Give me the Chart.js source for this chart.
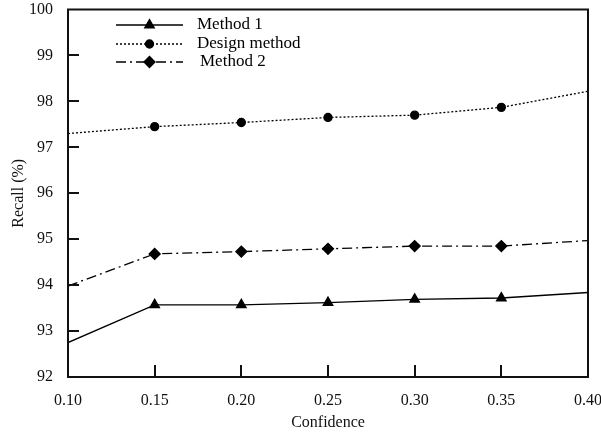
<!DOCTYPE html>
<html>
<head>
<meta charset="utf-8">
<script src="https://cdn.jsdelivr.net/npm/chart.js@4.4.1/dist/chart.umd.min.js"></script>
<style>
  html, body { margin: 0; padding: 0; background: #fff; }
  #wrap { width: 601px; height: 432px; }
</style>
</head>
<body>
<div id="wrap"><canvas id="chart" width="601" height="432"></canvas></div>
<script>
// values
const confidence = [0.10, 0.15, 0.20, 0.25, 0.30, 0.35, 0.40];
const method1 = [92.75, 93.57, 93.57, 93.62, 93.69, 93.72, 93.84];
const designMethod = [97.30, 97.45, 97.54, 97.65, 97.70, 97.87, 98.22];
const method2 = [93.98, 94.68, 94.73, 94.79, 94.85, 94.85, 94.97];
const seriesNames = ['Method 1', 'Design method', 'Method 2'];
const yTicks = [92, 93, 94, 95, 96, 97, 98, 99, 100];

const FONT = "'Liberation Serif', 'Times New Roman', serif";

function pts(vals) {
  return confidence.map((c, i) => ({ x: c, y: vals[i] }));
}

// frame around the plot + inward tick marks
const framePlugin = {
  id: 'frame',
  afterDraw(chart) {
    const { ctx, chartArea: a, scales } = chart;
    ctx.save();
    ctx.strokeStyle = '#111';
    ctx.lineWidth = 2;
    ctx.strokeRect(a.left, a.top, a.right - a.left, a.bottom - a.top);
    ctx.beginPath();
    scales.y.ticks.forEach(t => {
      if (t.value <= 92 || t.value >= 100) return;
      const py = Math.round(scales.y.getPixelForValue(t.value));
      ctx.moveTo(a.left, py);
      ctx.lineTo(a.left + 11, py);
    });
    scales.x.ticks.forEach(t => {
      if (t.value <= 0.1001 || t.value >= 0.3999) return;
      const px = Math.round(scales.x.getPixelForValue(t.value));
      ctx.moveTo(px, a.bottom);
      ctx.lineTo(px, a.bottom - 12);
    });
    ctx.stroke();
    ctx.restore();
  }
};

// legend drawn inside the plot, line sample with marker in the middle
const legendPlugin = {
  id: 'innerLegend',
  afterDraw(chart) {
    const { ctx, chartArea: a } = chart;
    const x0 = a.left + 48, x1 = a.left + 115;
    const rows = [a.top + 15.5, a.top + 34.5, a.top + 52.5];
    ctx.save();
    chart.data.datasets.forEach((ds, i) => {
      const y = rows[i];
      ctx.strokeStyle = '#000';
      ctx.lineWidth = ds.borderWidth;
      ctx.setLineDash(ds.borderDash || []);
      ctx.beginPath();
      ctx.moveTo(x0, y);
      ctx.lineTo(x1, y);
      ctx.stroke();
      ctx.setLineDash([]);
      ctx.fillStyle = '#000';
      Chart.helpers.drawPoint(ctx, {
        pointStyle: ds.pointStyle,
        radius: ds.pointStyle === 'circle' ? 4 : 5.5,
        rotation: 0,
        borderWidth: 1
      }, (x0 + x1) / 2, y);
      ctx.font = '17px ' + FONT;
      ctx.textBaseline = 'middle';
      ctx.textAlign = 'left';
      ctx.fillText(ds.label, x1 + (i === 2 ? 17 : 14), y);
    });
    ctx.restore();
  }
};

const common = {
  borderColor: '#000',
  backgroundColor: '#000',
  pointBackgroundColor: '#000',
  pointBorderColor: '#000',
  borderWidth: 1.3,
  tension: 0
};

new Chart(document.getElementById('chart').getContext('2d'), {
  type: 'line',
  data: {
    datasets: [
      Object.assign({}, common, {
        label: seriesNames[0],
        data: pts(method1),
        pointStyle: 'triangle',
        pointRadius: [0, 5.5, 5.5, 5.5, 5.5, 5.5, 0]
      }),
      Object.assign({}, common, {
        label: seriesNames[1],
        data: pts(designMethod),
        borderDash: [2, 2],
        pointStyle: 'circle',
        pointRadius: [0, 4, 4, 4, 4, 4, 0]
      }),
      Object.assign({}, common, {
        label: seriesNames[2],
        data: pts(method2),
        borderDash: [10, 4, 2, 4],
        pointStyle: 'rectRot',
        pointRadius: [0, 5.5, 5.5, 5.5, 5.5, 5.5, 0]
      })
    ]
  },
  options: {
    responsive: false,
    animation: false,
    devicePixelRatio: 1,
    layout: { padding: { left: 0, right: 0, top: 0, bottom: 0 } },
    plugins: {
      legend: { display: false },
      tooltip: { enabled: false }
    },
    scales: {
      x: {
        type: 'linear',
        min: 0.1,
        max: 0.4,
        grid: { display: false },
        border: { display: false },
        afterFit(scale) {
          scale.height = 55;
          scale.paddingLeft = 0;
          scale.paddingRight = 13;
        },
        afterBuildTicks(scale) { scale.ticks = confidence.map(v => ({ value: v })); },
        ticks: {
          color: '#111',
          font: { family: FONT, size: 16 },
          padding: 6,
          maxRotation: 0,
          autoSkip: false,
          callback: v => v.toFixed(2)
        },
        title: {
          display: true,
          text: 'Confidence',
          color: '#111',
          font: { family: FONT, size: 16 },
          padding: { top: 0, bottom: 0 }
        }
      },
      y: {
        min: 92,
        max: 100,
        grid: { display: false },
        border: { display: false },
        afterFit(scale) {
          scale.width = 68;
          scale.paddingTop = 9.5;
          scale.paddingBottom = 0;
        },
        afterBuildTicks(scale) { scale.ticks = yTicks.map(v => ({ value: v })); },
        ticks: {
          color: '#111',
          font: { family: FONT, size: 16 },
          padding: 7,
          autoSkip: false
        },
        title: {
          display: true,
          text: 'Recall (%)',
          color: '#111',
          font: { family: FONT, size: 16 },
          padding: { top: 9, bottom: 0 }
        }
      }
    }
  },
  plugins: [framePlugin, legendPlugin]
});
</script>
</body>
</html>
